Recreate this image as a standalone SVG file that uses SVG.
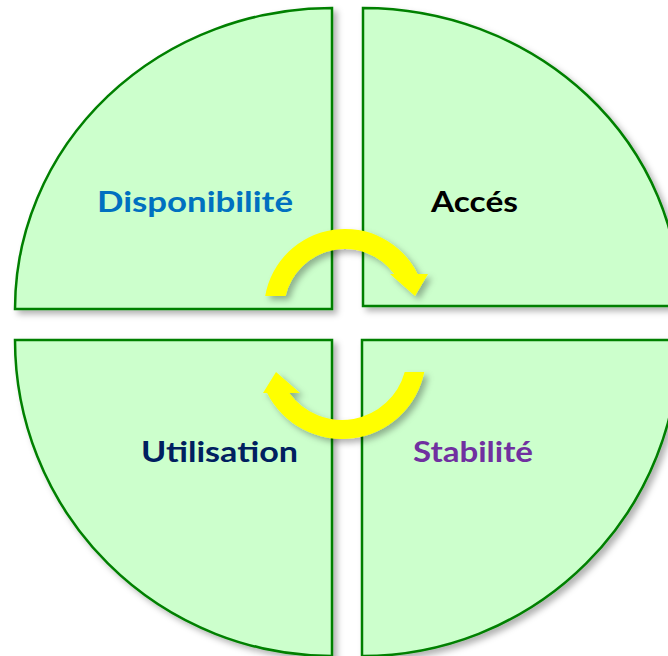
<svg xmlns="http://www.w3.org/2000/svg" width="668" height="656" viewBox="0 0 668 656">
  <style>
    .sector { fill: #CCFFCC; stroke: #008000; stroke-width: 2.5; stroke-linejoin: miter; }
    .arrow { fill: #FFFF00; stroke: none; }
    .lbl { font-family: Lato, "Liberation Sans", sans-serif; font-weight: 700; font-size: 28px; }
  </style>
  <defs>
    <filter id="shadow" x="-10%" y="-10%" width="125%" height="125%">
      <feDropShadow dx="4" dy="4" stdDeviation="3" flood-color="#000000" flood-opacity="0.3"/>
    </filter>
  </defs>
  <rect width="668" height="656" fill="#FFFFFF"/>

  <g id="disponibilite">
    <path class="sector" filter="url(#shadow)" d="M332,309 L332,8 A317,301 0 0 0 15,309 Z"/>
    <text class="lbl" x="97" y="212" textLength="196" lengthAdjust="spacingAndGlyphs" fill="#0070C0">Disponibilité</text>
  </g>

  <g id="acces">
    <path class="sector" filter="url(#shadow)" d="M363,306 L363,8 A317,298 0 0 1 680,306 Z"/>
    <text class="lbl" x="431" y="212" textLength="87" lengthAdjust="spacingAndGlyphs" fill="#000000">Accés</text>
  </g>

  <g id="utilisation">
    <path class="sector" filter="url(#shadow)" d="M332,340 L15,340 A317,316 0 0 0 332,656 L332,670 Z"/>
    <text class="lbl" x="141" y="462" textLength="157" lengthAdjust="spacingAndGlyphs" fill="#002060">Utilisation</text>
  </g>

  <g id="stabilite">
    <path class="sector" filter="url(#shadow)" d="M362,340 L679,340 A317,316 0 0 1 362,656 Z"/>
    <text class="lbl" x="413" y="462" textLength="120" lengthAdjust="spacingAndGlyphs" fill="#7030A0">Stabilité</text>
  </g>

  <g id="connectors">
    <path class="arrow" filter="url(#shadow)" d="M265.2,296 A81,81 0 0 1 417.6,274 L428,274 L415,296 L390,274 L394.2,274 A61,61 0 0 0 285.6,296 Z"/>
    <path class="arrow" filter="url(#shadow)" d="M424.3,372 A84,84 0 0 1 267.1,393 L263,393 L276,372 L300,393 L289.3,393 A65,65 0 0 0 404.7,372 Z"/>
  </g>
</svg>
